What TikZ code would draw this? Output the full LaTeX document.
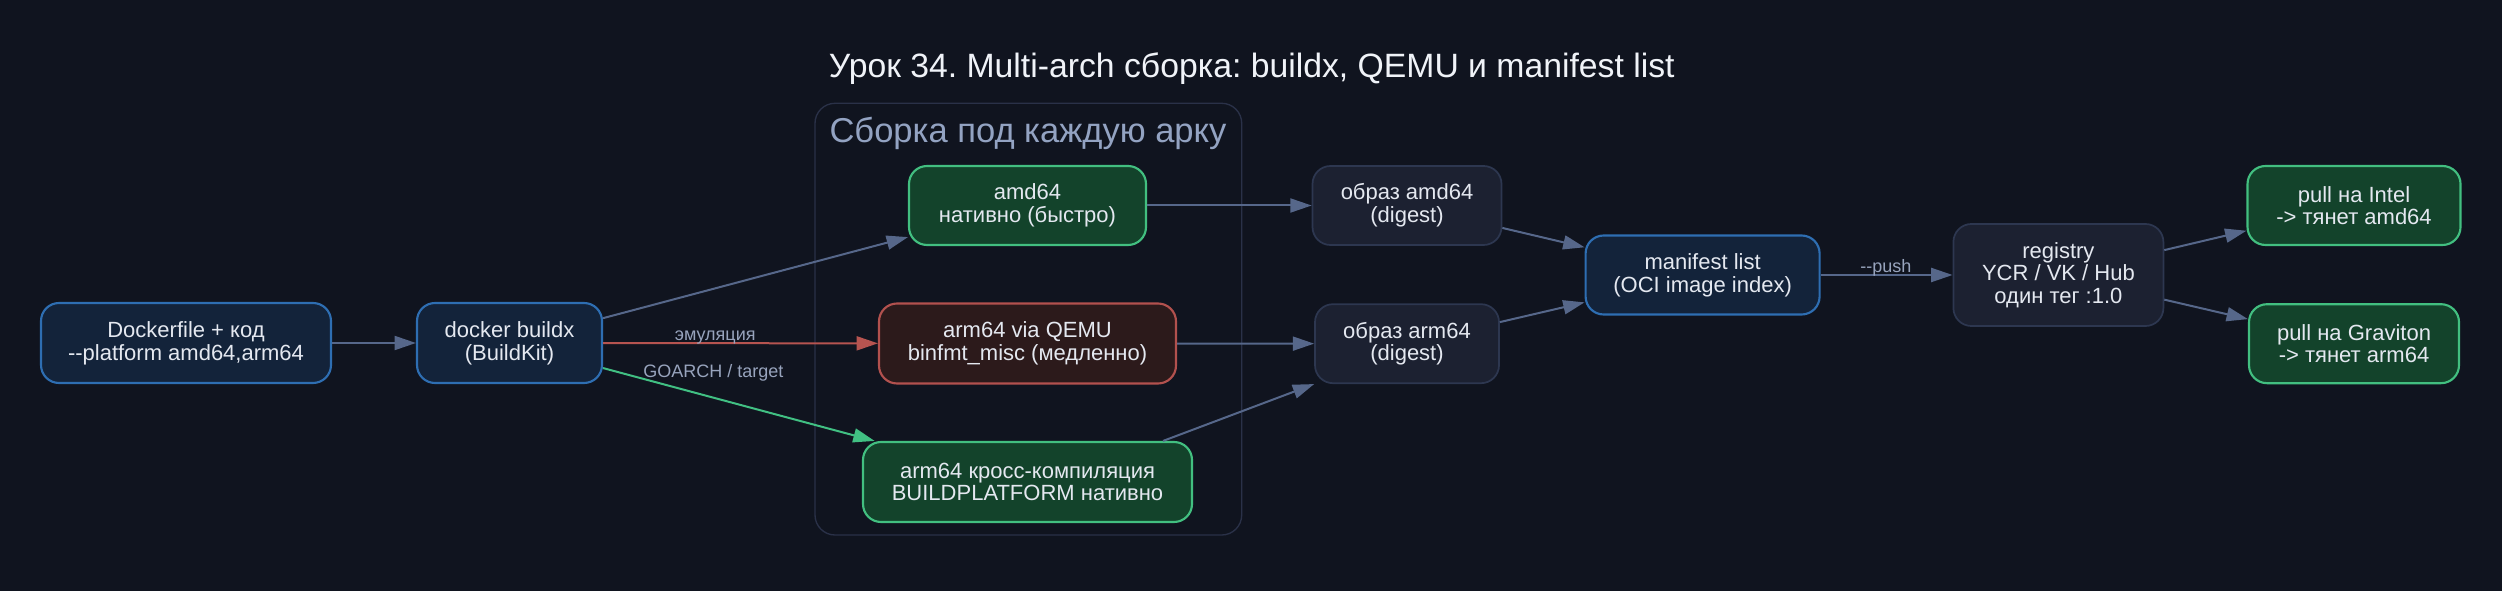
\documentclass[tikz,border=0pt]{standalone}
\usepackage{fontspec}
\setmainfont{Liberation Sans}
\usetikzlibrary{arrows.meta,calc}
\frenchspacing
\definecolor{bg}{HTML}{10141F}
\definecolor{txt}{HTML}{E4E8F0}
\definecolor{bluefill}{HTML}{13233A}
\definecolor{blueborder}{HTML}{2E6EB2}
\definecolor{greenfill}{HTML}{13432B}
\definecolor{greenborder}{HTML}{42BF80}
\definecolor{redfill}{HTML}{2C1A1B}
\definecolor{redborder}{HTML}{B2514E}
\definecolor{grayfill}{HTML}{1C2131}
\definecolor{grayborder}{HTML}{2D3750}
\definecolor{edgec}{HTML}{56678A}
\definecolor{edgered}{HTML}{B65450}
\definecolor{edgegreen}{HTML}{41C083}
\definecolor{lblc}{HTML}{98A4BD}
\definecolor{clusterc}{HTML}{2A3148}
\definecolor{clusterlbl}{HTML}{93A3C2}
\definecolor{titlec}{HTML}{F0F3F8}
\newcommand{\dd}{\mbox{-}\mbox{-}}
\tikzset{
  box/.style={rounded corners=13.5pt, line width=1.6pt, text=txt, align=center,
    inner sep=0pt, minimum height=60pt,
    font=\fontsize{16.5}{17}\selectfont},
  bluebox/.style={box, fill=bluefill, draw=blueborder},
  greenbox/.style={box, fill=greenfill, draw=greenborder},
  redbox/.style={box, fill=redfill, draw=redborder},
  graybox/.style={box, fill=grayfill, draw=grayborder, line width=1.3pt},
  conn/.style={line width=1.5pt, draw=edgec, -{Triangle[length=16pt,width=10.5pt]}},
  elabel/.style={text=lblc, font=\fontsize{13.5}{16}\selectfont, inner sep=0pt, anchor=base}
}
\begin{document}
\begin{tikzpicture}[x=0.75pt,y=-0.75pt]
\fill[bg] (0,0) rectangle (2502,591);
\useasboundingbox (0,0) rectangle (2502,591);

% title
\node[text=titlec, font=\fontsize{25.3}{30}\selectfont, anchor=base, inner sep=0pt] (title) at (1251.7,77.7) {Урок 34. Multi-arch сборка: buildx, QEMU и manifest list};

% cluster
\draw[clusterc, line width=1pt, rounded corners=15pt] (815,103.3) rectangle (1241.7,535);
\node[text=clusterlbl, font=\fontsize{25.9}{30}\selectfont, anchor=base, inner sep=0pt] (clab) at (1028,142.7) {Сборка под каждую арку};

% nodes
\node[bluebox, minimum width=217.5pt] (dock) at (186,343) {Dockerfile + код\\\dd platform amd64,arm64};
\node[bluebox, minimum width=138.75pt] (bx) at (509.5,343) {docker buildx\\(BuildKit)};
\node[greenbox, minimum width=177.75pt, minimum height=59.25pt] (amd) at (1027.5,205.5) {amd64\\нативно (быстро)};
\node[redbox, minimum width=222.75pt] (qemu) at (1027.5,343.5) {arm64 via QEMU\\binfmt\_misc (медленно)};
\node[greenbox, minimum width=246.75pt] (cross) at (1027.5,482) {arm64 кросс-компиляция\\BUILDPLATFORM нативно};
\node[graybox, minimum width=141.75pt, minimum height=59.25pt] (oamd) at (1407,205.5) {образ amd64\\(digest)};
\node[graybox, minimum width=138pt, minimum height=59.25pt] (oarm) at (1407,343.7) {образ arm64\\(digest)};
\node[bluebox, minimum width=175.5pt, minimum height=59.25pt] (man) at (1702.6,275) {manifest list\\(OCI image index)};
\node[graybox, minimum width=157.5pt, minimum height=76.5pt] (reg) at (2058.4,275) {registry\\YCR / VK / Hub\\один тег :1.0};
\node[greenbox, minimum width=159.75pt, minimum height=59.25pt] (intel) at (2354,205.5) {pull на Intel\\-> тянет amd64};
\node[greenbox, minimum width=157.5pt, minimum height=59.25pt] (grav) at (2354,343.7) {pull на Graviton\\-> тянет arm64};

% edges
\draw[conn] (dock) -- (bx);
\draw[conn] (bx) -- (amd);
\draw[conn, draw=edgered, fill=edgered] (bx) -- node[elabel, pos=0.408, yshift=1.7pt] (lemu) {эмуляция} (qemu);
\draw[conn, draw=edgegreen, fill=edgegreen] (bx) -- node[elabel, pos=0.406, yshift=15pt] (lgo) {GOARCH / target} (cross);
\draw[conn] (amd) -- (oamd);
\draw[conn] (qemu) -- (oarm);
\draw[conn] ($(cross.north east)+(-30,0)$) -- (oarm.south west);
\draw[conn] (oamd) -- (man);
\draw[conn] (oarm) -- (man);
\draw[conn] (man) -- node[elabel, pos=0.494, yshift=1.7pt] (lpush) {\dd push} (reg);
\draw[conn] (reg) -- (intel);
\draw[conn] (reg) -- (grav);
\end{tikzpicture}
\end{document}
